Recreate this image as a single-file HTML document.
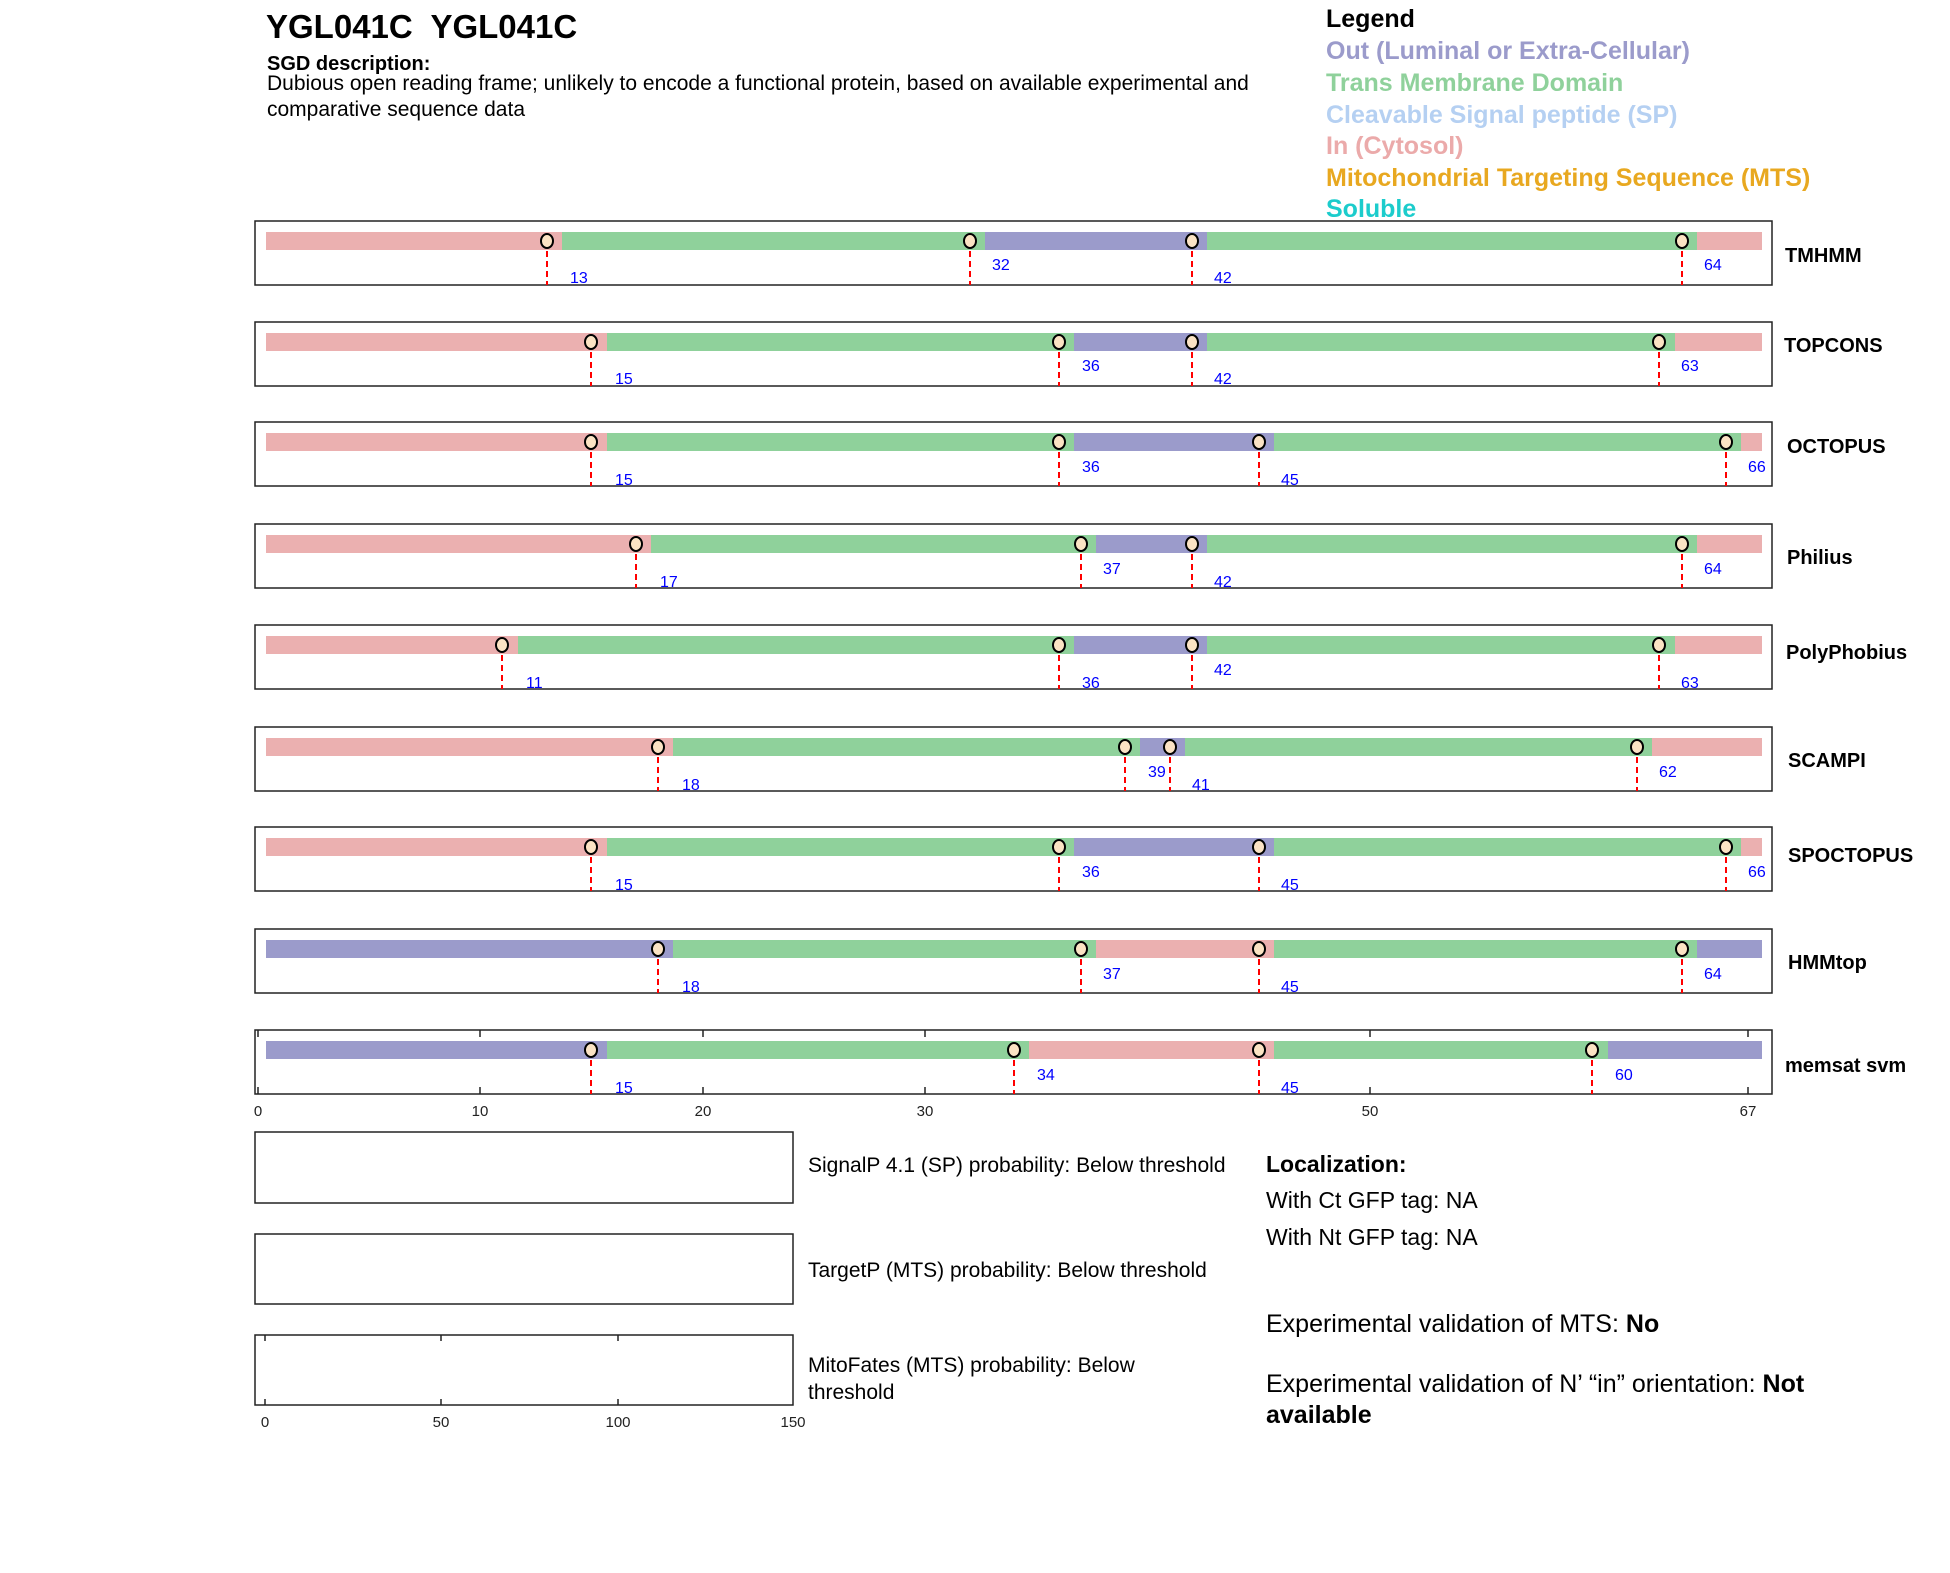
<!DOCTYPE html>
<html><head><meta charset="utf-8"><style>
html,body{margin:0;padding:0;background:#fff;}
svg{display:block;font-family:"Liberation Sans",Arial,sans-serif;}
.nm{font-weight:bold;font-size:20px;fill:#000;}
.lb{font-size:16px;fill:#0000ff;}
.tk{font-size:15px;fill:#222;}
.pn{fill:none;stroke:#222;stroke-width:1.5;}
.dl{stroke:#ff0000;stroke-width:2;stroke-dasharray:6,4;}
.mk{fill:#fbe3c4;stroke:#000;stroke-width:2;}
.p{fill:#ebb0b0;}.g{fill:#8fd19b;}.u{fill:#9b9bcb;}
</style></head><body>
<svg width="1950" height="1573" viewBox="0 0 1950 1573">
<text x="266" y="38" font-size="33" font-weight="bold" xml:space="preserve">YGL041C  YGL041C</text>
<text x="267" y="70" font-size="20" font-weight="bold">SGD description:</text>
<text x="267" y="90" font-size="21">Dubious open reading frame; unlikely to encode a functional protein, based on available experimental and</text>
<text x="267" y="116" font-size="21">comparative sequence data</text>

<g font-size="25" font-weight="bold">
<text x="1326" y="27" fill="#000">Legend</text>
<text x="1326" y="59" fill="#9b9bcb">Out (Luminal or Extra-Cellular)</text>
<text x="1326" y="91" fill="#8fd19b">Trans Membrane Domain</text>
<text x="1326" y="123" fill="#b5d0f2">Cleavable Signal peptide (SP)</text>
<text x="1326" y="154" fill="#ebaaaa">In (Cytosol)</text>
<text x="1326" y="186" fill="#e8a820">Mitochondrial Targeting Sequence (MTS)</text>
<text x="1326" y="217" fill="#1ccccc">Soluble</text>
</g>

<!-- TMHMM -->
<g>
<rect class="pn" x="255" y="221" width="1517" height="64"/>
<rect class="p" x="266" y="232" width="297" height="18"/><rect class="g" x="562" y="232" width="423" height="18"/><rect class="u" x="985" y="232" width="223" height="18"/><rect class="g" x="1207" y="232" width="490" height="18"/><rect class="p" x="1697" y="232" width="65" height="18"/>
<line class="dl" x1="547" y1="241" x2="547" y2="285"/><line class="dl" x1="970" y1="241" x2="970" y2="285"/><line class="dl" x1="1192" y1="241" x2="1192" y2="285"/><line class="dl" x1="1682" y1="241" x2="1682" y2="285"/>
<ellipse class="mk" cx="547" cy="241" rx="6" ry="7"/><ellipse class="mk" cx="970" cy="241" rx="6" ry="7"/><ellipse class="mk" cx="1192" cy="241" rx="6" ry="7"/><ellipse class="mk" cx="1682" cy="241" rx="6" ry="7"/>
<text class="lb" x="570" y="283">13</text><text class="lb" x="992" y="270">32</text><text class="lb" x="1214" y="283">42</text><text class="lb" x="1704" y="270">64</text>
<text class="nm" x="1785" y="262">TMHMM</text>
</g>
<!-- TOPCONS -->
<g>
<rect class="pn" x="255" y="322" width="1517" height="64"/>
<rect class="p" x="266" y="333" width="341" height="18"/><rect class="g" x="607" y="333" width="467" height="18"/><rect class="u" x="1074" y="333" width="134" height="18"/><rect class="g" x="1207" y="333" width="468" height="18"/><rect class="p" x="1675" y="333" width="87" height="18"/>
<line class="dl" x1="591" y1="342" x2="591" y2="386"/><line class="dl" x1="1059" y1="342" x2="1059" y2="386"/><line class="dl" x1="1192" y1="342" x2="1192" y2="386"/><line class="dl" x1="1659" y1="342" x2="1659" y2="386"/>
<ellipse class="mk" cx="591" cy="342" rx="6" ry="7"/><ellipse class="mk" cx="1059" cy="342" rx="6" ry="7"/><ellipse class="mk" cx="1192" cy="342" rx="6" ry="7"/><ellipse class="mk" cx="1659" cy="342" rx="6" ry="7"/>
<text class="lb" x="615" y="384">15</text><text class="lb" x="1082" y="371">36</text><text class="lb" x="1214" y="384">42</text><text class="lb" x="1681" y="371">63</text>
<text class="nm" x="1784" y="352">TOPCONS</text>
</g>
<!-- OCTOPUS -->
<g>
<rect class="pn" x="255" y="422" width="1517" height="64"/>
<rect class="p" x="266" y="433" width="341" height="18"/><rect class="g" x="607" y="433" width="467" height="18"/><rect class="u" x="1074" y="433" width="201" height="18"/><rect class="g" x="1274" y="433" width="468" height="18"/><rect class="p" x="1741" y="433" width="21" height="18"/>
<line class="dl" x1="591" y1="442" x2="591" y2="486"/><line class="dl" x1="1059" y1="442" x2="1059" y2="486"/><line class="dl" x1="1259" y1="442" x2="1259" y2="486"/><line class="dl" x1="1726" y1="442" x2="1726" y2="486"/>
<ellipse class="mk" cx="591" cy="442" rx="6" ry="7"/><ellipse class="mk" cx="1059" cy="442" rx="6" ry="7"/><ellipse class="mk" cx="1259" cy="442" rx="6" ry="7"/><ellipse class="mk" cx="1726" cy="442" rx="6" ry="7"/>
<text class="lb" x="615" y="485">15</text><text class="lb" x="1082" y="472">36</text><text class="lb" x="1281" y="485">45</text><text class="lb" x="1748" y="472">66</text>
<text class="nm" x="1787" y="453">OCTOPUS</text>
</g>
<!-- Philius -->
<g>
<rect class="pn" x="255" y="524" width="1517" height="64"/>
<rect class="p" x="266" y="535" width="386" height="18"/><rect class="g" x="651" y="535" width="446" height="18"/><rect class="u" x="1096" y="535" width="112" height="18"/><rect class="g" x="1207" y="535" width="490" height="18"/><rect class="p" x="1697" y="535" width="65" height="18"/>
<line class="dl" x1="636" y1="544" x2="636" y2="588"/><line class="dl" x1="1081" y1="544" x2="1081" y2="588"/><line class="dl" x1="1192" y1="544" x2="1192" y2="588"/><line class="dl" x1="1682" y1="544" x2="1682" y2="588"/>
<ellipse class="mk" cx="636" cy="544" rx="6" ry="7"/><ellipse class="mk" cx="1081" cy="544" rx="6" ry="7"/><ellipse class="mk" cx="1192" cy="544" rx="6" ry="7"/><ellipse class="mk" cx="1682" cy="544" rx="6" ry="7"/>
<text class="lb" x="660" y="587">17</text><text class="lb" x="1103" y="574">37</text><text class="lb" x="1214" y="587">42</text><text class="lb" x="1704" y="574">64</text>
<text class="nm" x="1787" y="564">Philius</text>
</g>
<!-- PolyPhobius -->
<g>
<rect class="pn" x="255" y="625" width="1517" height="64"/>
<rect class="p" x="266" y="636" width="252" height="18"/><rect class="g" x="518" y="636" width="556" height="18"/><rect class="u" x="1074" y="636" width="134" height="18"/><rect class="g" x="1207" y="636" width="468" height="18"/><rect class="p" x="1675" y="636" width="87" height="18"/>
<line class="dl" x1="502" y1="645" x2="502" y2="689"/><line class="dl" x1="1059" y1="645" x2="1059" y2="689"/><line class="dl" x1="1192" y1="645" x2="1192" y2="689"/><line class="dl" x1="1659" y1="645" x2="1659" y2="689"/>
<ellipse class="mk" cx="502" cy="645" rx="6" ry="7"/><ellipse class="mk" cx="1059" cy="645" rx="6" ry="7"/><ellipse class="mk" cx="1192" cy="645" rx="6" ry="7"/><ellipse class="mk" cx="1659" cy="645" rx="6" ry="7"/>
<text class="lb" x="526" y="688">11</text><text class="lb" x="1082" y="688">36</text><text class="lb" x="1214" y="675">42</text><text class="lb" x="1681" y="688">63</text>
<text class="nm" x="1786" y="659">PolyPhobius</text>
</g>
<!-- SCAMPI -->
<g>
<rect class="pn" x="255" y="727" width="1517" height="64"/>
<rect class="p" x="266" y="738" width="408" height="18"/><rect class="g" x="673" y="738" width="468" height="18"/><rect class="u" x="1140" y="738" width="46" height="18"/><rect class="g" x="1185" y="738" width="468" height="18"/><rect class="p" x="1652" y="738" width="110" height="18"/>
<line class="dl" x1="658" y1="747" x2="658" y2="791"/><line class="dl" x1="1125" y1="747" x2="1125" y2="791"/><line class="dl" x1="1170" y1="747" x2="1170" y2="791"/><line class="dl" x1="1637" y1="747" x2="1637" y2="791"/>
<ellipse class="mk" cx="658" cy="747" rx="6" ry="7"/><ellipse class="mk" cx="1125" cy="747" rx="6" ry="7"/><ellipse class="mk" cx="1170" cy="747" rx="6" ry="7"/><ellipse class="mk" cx="1637" cy="747" rx="6" ry="7"/>
<text class="lb" x="682" y="790">18</text><text class="lb" x="1148" y="777">39</text><text class="lb" x="1192" y="790">41</text><text class="lb" x="1659" y="777">62</text>
<text class="nm" x="1788" y="767">SCAMPI</text>
</g>
<!-- SPOCTOPUS -->
<g>
<rect class="pn" x="255" y="827" width="1517" height="64"/>
<rect class="p" x="266" y="838" width="341" height="18"/><rect class="g" x="607" y="838" width="467" height="18"/><rect class="u" x="1074" y="838" width="201" height="18"/><rect class="g" x="1274" y="838" width="468" height="18"/><rect class="p" x="1741" y="838" width="21" height="18"/>
<line class="dl" x1="591" y1="847" x2="591" y2="891"/><line class="dl" x1="1059" y1="847" x2="1059" y2="891"/><line class="dl" x1="1259" y1="847" x2="1259" y2="891"/><line class="dl" x1="1726" y1="847" x2="1726" y2="891"/>
<ellipse class="mk" cx="591" cy="847" rx="6" ry="7"/><ellipse class="mk" cx="1059" cy="847" rx="6" ry="7"/><ellipse class="mk" cx="1259" cy="847" rx="6" ry="7"/><ellipse class="mk" cx="1726" cy="847" rx="6" ry="7"/>
<text class="lb" x="615" y="890">15</text><text class="lb" x="1082" y="877">36</text><text class="lb" x="1281" y="890">45</text><text class="lb" x="1748" y="877">66</text>
<text class="nm" x="1788" y="862">SPOCTOPUS</text>
</g>
<!-- HMMtop -->
<g>
<rect class="pn" x="255" y="929" width="1517" height="64"/>
<rect class="u" x="266" y="940" width="408" height="18"/><rect class="g" x="673" y="940" width="424" height="18"/><rect class="p" x="1096" y="940" width="179" height="18"/><rect class="g" x="1274" y="940" width="423" height="18"/><rect class="u" x="1697" y="940" width="65" height="18"/>
<line class="dl" x1="658" y1="949" x2="658" y2="993"/><line class="dl" x1="1081" y1="949" x2="1081" y2="993"/><line class="dl" x1="1259" y1="949" x2="1259" y2="993"/><line class="dl" x1="1682" y1="949" x2="1682" y2="993"/>
<ellipse class="mk" cx="658" cy="949" rx="6" ry="7"/><ellipse class="mk" cx="1081" cy="949" rx="6" ry="7"/><ellipse class="mk" cx="1259" cy="949" rx="6" ry="7"/><ellipse class="mk" cx="1682" cy="949" rx="6" ry="7"/>
<text class="lb" x="682" y="992">18</text><text class="lb" x="1103" y="979">37</text><text class="lb" x="1281" y="992">45</text><text class="lb" x="1704" y="979">64</text>
<text class="nm" x="1788" y="969">HMMtop</text>
</g>
<!-- memsat svm -->
<g>
<rect class="pn" x="255" y="1030" width="1517" height="64"/>
<g stroke="#222" stroke-width="1.5">
<line x1="258" y1="1030" x2="258" y2="1037"/><line x1="258" y1="1094" x2="258" y2="1087"/>
<line x1="480" y1="1030" x2="480" y2="1037"/><line x1="480" y1="1094" x2="480" y2="1087"/>
<line x1="703" y1="1030" x2="703" y2="1037"/><line x1="703" y1="1094" x2="703" y2="1087"/>
<line x1="925" y1="1030" x2="925" y2="1037"/><line x1="925" y1="1094" x2="925" y2="1087"/>
<line x1="1370" y1="1030" x2="1370" y2="1037"/><line x1="1370" y1="1094" x2="1370" y2="1087"/>
<line x1="1748" y1="1030" x2="1748" y2="1037"/><line x1="1748" y1="1094" x2="1748" y2="1087"/>
</g>
<rect class="u" x="266" y="1041" width="341" height="18"/><rect class="g" x="607" y="1041" width="423" height="18"/><rect class="p" x="1029" y="1041" width="246" height="18"/><rect class="g" x="1274" y="1041" width="334" height="18"/><rect class="u" x="1608" y="1041" width="154" height="18"/>
<line class="dl" x1="591" y1="1050" x2="591" y2="1094"/><line class="dl" x1="1014" y1="1050" x2="1014" y2="1094"/><line class="dl" x1="1259" y1="1050" x2="1259" y2="1094"/><line class="dl" x1="1592" y1="1050" x2="1592" y2="1094"/>
<ellipse class="mk" cx="591" cy="1050" rx="6" ry="7"/><ellipse class="mk" cx="1014" cy="1050" rx="6" ry="7"/><ellipse class="mk" cx="1259" cy="1050" rx="6" ry="7"/><ellipse class="mk" cx="1592" cy="1050" rx="6" ry="7"/>
<text class="lb" x="615" y="1093">15</text><text class="lb" x="1037" y="1080">34</text><text class="lb" x="1281" y="1093">45</text><text class="lb" x="1615" y="1080">60</text>
<text class="nm" x="1785" y="1072">memsat svm</text>
<g class="tk" text-anchor="middle">
<text x="258" y="1116">0</text><text x="480" y="1116">10</text><text x="703" y="1116">20</text><text x="925" y="1116">30</text><text x="1370" y="1116">50</text><text x="1748" y="1116">67</text>
</g>
</g>

<!-- bottom boxes -->
<rect class="pn" x="255" y="1132" width="538" height="71"/>
<rect class="pn" x="255" y="1234" width="538" height="70"/>
<rect class="pn" x="255" y="1335" width="538" height="70"/>
<g stroke="#222" stroke-width="1.5">
<line x1="265" y1="1335" x2="265" y2="1341"/><line x1="265" y1="1405" x2="265" y2="1399"/>
<line x1="441" y1="1335" x2="441" y2="1341"/><line x1="441" y1="1405" x2="441" y2="1399"/>
<line x1="618" y1="1335" x2="618" y2="1341"/><line x1="618" y1="1405" x2="618" y2="1399"/>
</g>
<g class="tk" text-anchor="middle">
<text x="265" y="1427">0</text><text x="441" y="1427">50</text><text x="618" y="1427">100</text><text x="793" y="1427">150</text>
</g>
<g font-size="21" fill="#000">
<text x="808" y="1172">SignalP 4.1 (SP) probability: Below threshold</text>
<text x="808" y="1277">TargetP (MTS) probability: Below threshold</text>
<text x="808" y="1372">MitoFates (MTS) probability: Below</text>
<text x="808" y="1399">threshold</text>
</g>
<g fill="#000">
<text x="1266" y="1172" font-size="23" font-weight="bold">Localization:</text>
<text x="1266" y="1208" font-size="23">With Ct GFP tag: NA</text>
<text x="1266" y="1245" font-size="23">With Nt GFP tag: NA</text>
<text x="1266" y="1332" font-size="25">Experimental validation of MTS: <tspan font-weight="bold">No</tspan></text>
<text x="1266" y="1392" font-size="25">Experimental validation of N’ “in” orientation: <tspan font-weight="bold">Not</tspan></text>
<text x="1266" y="1423" font-size="25" font-weight="bold">available</text>
</g>
</svg>
</body></html>
